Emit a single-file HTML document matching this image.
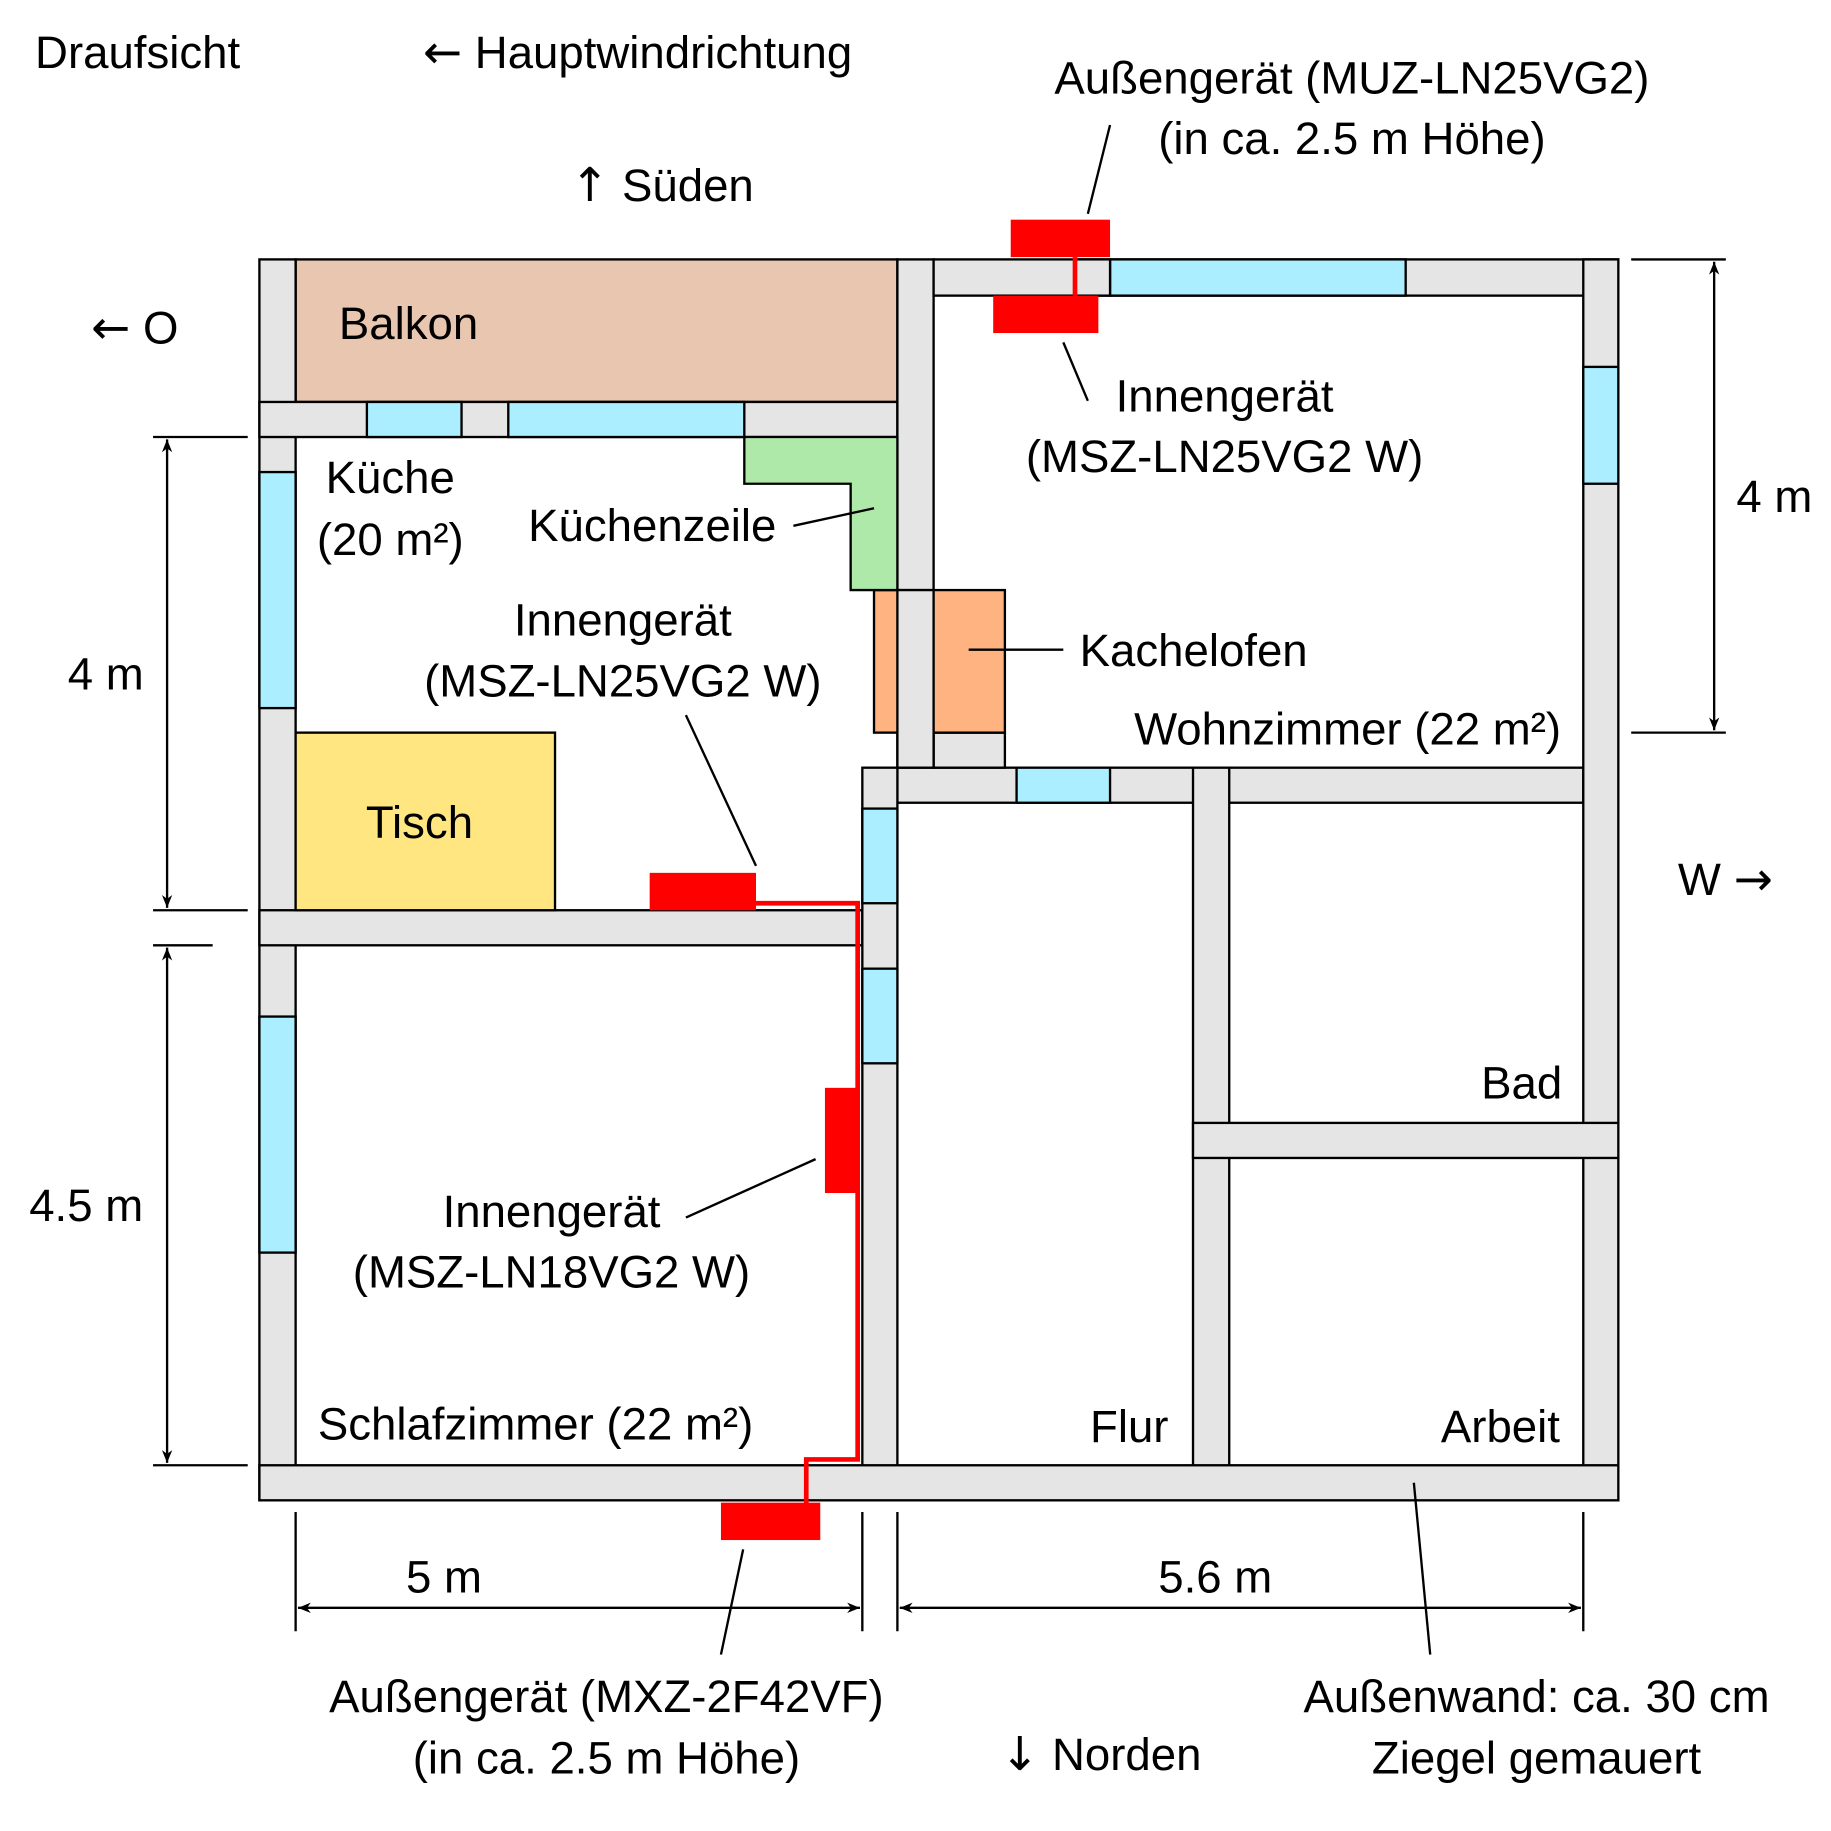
<!DOCTYPE html>
<html><head><meta charset="utf-8"><style>html,body{margin:0;padding:0;background:#fff}svg{display:block}</style></head><body>
<svg width="1831" height="1831" viewBox="0 0 1567 1567" xmlns="http://www.w3.org/2000/svg" font-family="Liberation Sans, sans-serif" font-size="39">
<defs><marker id="a" viewBox="0 0 10 10" refX="10" refY="5" markerWidth="15" markerHeight="11" markerUnits="userSpaceOnUse" orient="auto-start-reverse"><path d="M0,1 L10,5 L0,9 L3,5z" fill="#000"/></marker></defs>
<g stroke="#000" stroke-width="2">
<rect x="253" y="222" width="515" height="122" fill="#e8c6b0"/>
<g fill="#e5e5e5">
<rect x="222" y="222" width="31" height="1062"/>
<rect x="222" y="344" width="546" height="30"/>
<rect x="768" y="222" width="31" height="435"/>
<rect x="799" y="222" width="586" height="31"/>
<rect x="768" y="657" width="587" height="30"/>
<rect x="1355" y="222" width="30" height="1062"/>
<rect x="222" y="779" width="516" height="30"/>
<rect x="738" y="657" width="30" height="627"/>
<rect x="1021" y="657" width="31" height="627"/>
<rect x="1021" y="961" width="364" height="30"/>
<rect x="222" y="1254" width="1163" height="30"/>
<rect x="799" y="627" width="61" height="30"/>
</g>
<g fill="#aaeeff">
<rect x="950" y="222" width="253" height="31"/>
<rect x="1355" y="314" width="30" height="100"/>
<rect x="314" y="344" width="81" height="30"/>
<rect x="435" y="344" width="202" height="30"/>
<rect x="222" y="404" width="31" height="202"/>
<rect x="222" y="870" width="31" height="202"/>
<rect x="738" y="692" width="30" height="81"/>
<rect x="738" y="829" width="30" height="81"/>
<rect x="870" y="657" width="80" height="30"/>
</g>
<rect x="920" y="222" width="30" height="31" fill="#e5e5e5"/>
<rect x="748" y="505" width="112" height="122" fill="#ffb380"/>
<rect x="768" y="505" width="31" height="152" fill="#e5e5e5"/>
<path d="M637,374 H768 V505 H728 V414 H637 Z" fill="#aee9aa"/>
<rect x="253" y="627" width="222" height="152" fill="#ffe680"/>
</g>
<g fill="#f00">
<rect x="865" y="188" width="85" height="32"/>
<rect x="850" y="253" width="90" height="32"/>
<rect x="556" y="747" width="91" height="32"/>
<rect x="706" y="931" width="30" height="90"/>
<rect x="617" y="1286" width="85" height="32"/>
</g>
<g fill="none" stroke="#f00" stroke-width="4">
<path d="M920,220 V253"/>
<path d="M647,773 H734 V1249 H690 V1288"/>
</g>
<g stroke="#000" stroke-width="2" fill="none">
<path d="M931,183 L950,107"/><path d="M910,293 L931,343"/>
<path d="M679,450 L748,435"/><path d="M829,556 H910"/>
<path d="M647,741 L587,612"/><path d="M587,1042 L698,992"/>
<path d="M636,1326 L617,1416"/><path d="M1210,1269 L1224,1416"/>
<path d="M131,374 H212 M131,779 H212 M131,809 H182 M131,1254 H212"/>
<path d="M143,376 V777" marker-start="url(#a)" marker-end="url(#a)"/>
<path d="M143,811 V1252" marker-start="url(#a)" marker-end="url(#a)"/>
<path d="M1396,222 H1477 M1396,627 H1477"/>
<path d="M1467,224 V625" marker-start="url(#a)" marker-end="url(#a)"/>
<path d="M253,1294 V1396 M738,1294 V1396 M768,1294 V1396 M1355,1294 V1396"/>
<path d="M255,1376 H736" marker-start="url(#a)" marker-end="url(#a)"/>
<path d="M770,1376 H1353" marker-start="url(#a)" marker-end="url(#a)"/>
</g>
<g fill="#000">
<text x="30" y="58">Draufsicht</text>
<text x="362" y="58"><tspan font-family="DejaVu Sans" font-size="40">←</tspan> Hauptwindrichtung</text>
<text x="1157" y="80" text-anchor="middle">Außengerät (MUZ-LN25VG2)</text>
<text x="1157" y="132" text-anchor="middle">(in ca. 2.5 m Höhe)</text>
<text x="488" y="172"><tspan font-family="DejaVu Sans" font-size="40">↑</tspan> Süden</text>
<text x="78" y="294"><tspan font-family="DejaVu Sans" font-size="40">←</tspan> O</text>
<text x="290" y="290">Balkon</text>
<text x="1048" y="352" text-anchor="middle">Innengerät</text>
<text x="1048" y="404" text-anchor="middle">(MSZ-LN25VG2 W)</text>
<text x="1486" y="438">4 m</text>
<text x="334" y="422" text-anchor="middle">Küche</text>
<text x="334" y="475" text-anchor="middle">(20 m²)</text>
<text x="452" y="463">Küchenzeile</text>
<text x="533" y="544" text-anchor="middle">Innengerät</text>
<text x="533" y="596" text-anchor="middle">(MSZ-LN25VG2 W)</text>
<text x="924" y="570">Kachelofen</text>
<text x="58" y="590">4 m</text>
<text x="1336" y="637" text-anchor="end">Wohnzimmer (22 m²)</text>
<text x="359" y="717" text-anchor="middle">Tisch</text>
<text x="1436" y="766">W <tspan font-family="DejaVu Sans" font-size="40">→</tspan></text>
<text x="1337" y="940" text-anchor="end">Bad</text>
<text x="25" y="1045">4.5 m</text>
<text x="472" y="1050" text-anchor="middle">Innengerät</text>
<text x="472" y="1102" text-anchor="middle">(MSZ-LN18VG2 W)</text>
<text x="272" y="1232">Schlafzimmer (22 m²)</text>
<text x="1000" y="1234" text-anchor="end">Flur</text>
<text x="1335" y="1234" text-anchor="end">Arbeit</text>
<text x="380" y="1363" text-anchor="middle">5 m</text>
<text x="1040" y="1363" text-anchor="middle">5.6 m</text>
<text x="519" y="1465" text-anchor="middle">Außengerät (MXZ-2F42VF)</text>
<text x="519" y="1518" text-anchor="middle">(in ca. 2.5 m Höhe)</text>
<text x="856" y="1515"><tspan font-family="DejaVu Sans" font-size="40">↓</tspan> Norden</text>
<text x="1315" y="1465" text-anchor="middle">Außenwand: ca. 30 cm</text>
<text x="1315" y="1518" text-anchor="middle">Ziegel gemauert</text>
</g>
</svg>
</body></html>
